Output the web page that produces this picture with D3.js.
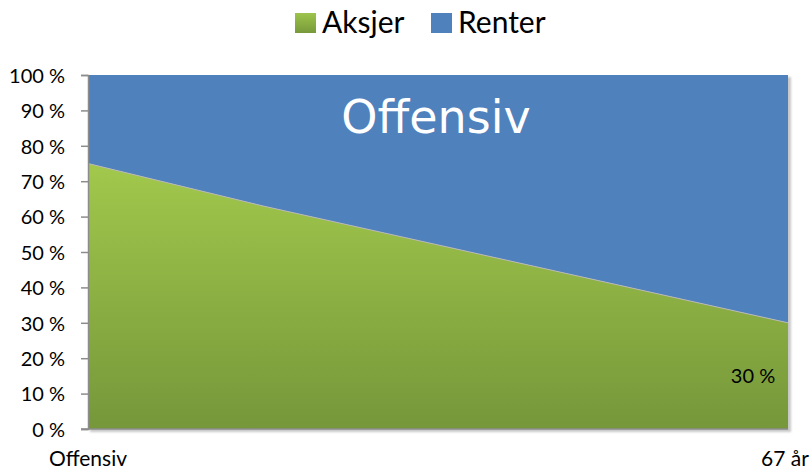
<!DOCTYPE html>
<html>
<head>
<meta charset="utf-8">
<script src="https://cdn.jsdelivr.net/npm/d3@7"></script>
<style>
  body { margin: 0; background: #fff; }
  svg { display: block; font-family: Lato, "Open Sans", sans-serif; }
</style>
</head>
<body>
<svg id="chart" width="811" height="469"></svg>
<script>
// categories along the x axis (only first and last are labelled)
const categories = ["Offensiv", "", "", "", "67 år"];
// share in stocks (Aksjer), percent
const aksjer = [75, 63, 52, 41, 30];
// share in bonds (Renter), percent
const renter = aksjer.map(v => 100 - v);
const yTicks = [0, 10, 20, 30, 40, 50, 60, 70, 80, 90, 100];
const seriesNames = ["Aksjer", "Renter"];

const svg = d3.select("#chart");
const plotLeft = 88, plotRight = 788, plotTop = 75, plotBottom = 429;

const x = d3.scalePoint().domain(d3.range(categories.length)).range([plotLeft, plotRight]);
const y = d3.scaleLinear().domain([0, 100]).range([plotBottom, plotTop]);

const defs = svg.append("defs");
let grad = defs.append("linearGradient").attr("id", "green")
  .attr("x1", 0).attr("y1", 0).attr("x2", 0).attr("y2", 1);
grad.append("stop").attr("offset", "0%").attr("stop-color", "#a2c84c");
grad.append("stop").attr("offset", "100%").attr("stop-color", "#76973a");
let grad2 = defs.append("linearGradient").attr("id", "greenLeg")
  .attr("x1", 0).attr("y1", 0).attr("x2", 0).attr("y2", 1);
grad2.append("stop").attr("offset", "0%").attr("stop-color", "#9dc44b");
grad2.append("stop").attr("offset", "100%").attr("stop-color", "#78993a");
let blur = defs.append("filter").attr("id", "shadow").attr("x", "-5%").attr("y", "-5%").attr("width", "110%").attr("height", "110%");
blur.append("feGaussianBlur").attr("stdDeviation", 1.2);

// plot area shadow
svg.append("rect")
  .attr("x", plotLeft + 2).attr("y", plotTop + 2)
  .attr("width", plotRight - plotLeft + 1).attr("height", plotBottom - plotTop + 1)
  .attr("fill", "#c8c8c8")
  .attr("filter", "url(#shadow)");

const data = aksjer.map((a, i) => ({ i: i, a: a, r: renter[i] }));

// Renter (stacked on top)
svg.append("path")
  .datum(data)
  .attr("fill", "#4f81bd")
  .attr("d", d3.area().x(d => x(d.i)).y0(d => y(d.a)).y1(d => y(d.a + d.r)));

// Aksjer
svg.append("path")
  .datum(data)
  .attr("fill", "url(#green)")
  .attr("d", d3.area().x(d => x(d.i)).y0(y(0)).y1(d => y(d.a)));

svg.append("path")
  .datum(data)
  .attr("fill", "none")
  .attr("stroke", "#b9b9b9")
  .attr("stroke-width", 1)
  .attr("d", d3.line().x(d => x(d.i)).y(d => y(d.a)));

// axes
const yAxis = d3.axisLeft(y).tickValues(yTicks).tickSize(7).tickFormat(d => d + " %");
const gy = svg.append("g").attr("transform", "translate(" + plotLeft + ",0)").call(yAxis);
gy.select(".domain").attr("stroke", "#8c8c8c").attr("stroke-width", 1.5);
gy.selectAll(".tick line").attr("stroke", "#8c8c8c").attr("stroke-width", 1.5);
gy.selectAll(".tick text").attr("x", -23).attr("dy", "0.36em")
  .attr("font-size", 20).attr("fill", "#000")
  .attr("font-family", "Lato, sans-serif");

svg.append("line")
  .attr("x1", plotLeft - 7).attr("x2", plotRight).attr("y1", plotBottom).attr("y2", plotBottom)
  .attr("stroke", "#8c8c8c").attr("stroke-width", 1.5);

svg.selectAll(".xlab")
  .data(categories)
  .join("text")
  .attr("class", "xlab")
  .attr("x", (d, i) => x(i) + (i === categories.length - 1 ? -3 : 0))
  .attr("y", 466)
  .attr("text-anchor", "middle")
  .attr("font-size", 21)
  .attr("fill", "#000")
  .text(d => d);

// data label for last Aksjer point
const last = data[data.length - 1];
svg.append("text")
  .attr("x", x(last.i) - 35)
  .attr("y", y(last.a / 2))
  .attr("dy", "0.36em")
  .attr("text-anchor", "middle")
  .attr("font-size", 20)
  .attr("fill", "#000")
  .text(last.a + " %");

// title inside plot
svg.append("text")
  .attr("x", 436)
  .attr("y", 133)
  .attr("text-anchor", "middle")
  .attr("font-family", "DejaVu Sans, sans-serif")
  .attr("font-size", 46)
  .attr("fill", "#fff")
  .text("Offensiv");

// legend
const legend = svg.append("g");
const legX = [295, 431];
const legFill = ["url(#greenLeg)", "#4f81bd"];
seriesNames.forEach((name, i) => {
  legend.append("rect")
    .attr("x", legX[i]).attr("y", 13)
    .attr("width", 21).attr("height", 20)
    .attr("fill", legFill[i]);
  legend.append("text")
    .attr("x", legX[i] + 27).attr("y", 33)
    .attr("font-size", 30)
    .attr("fill", "#000")
    .text(name);
});
</script>
</body>
</html>
